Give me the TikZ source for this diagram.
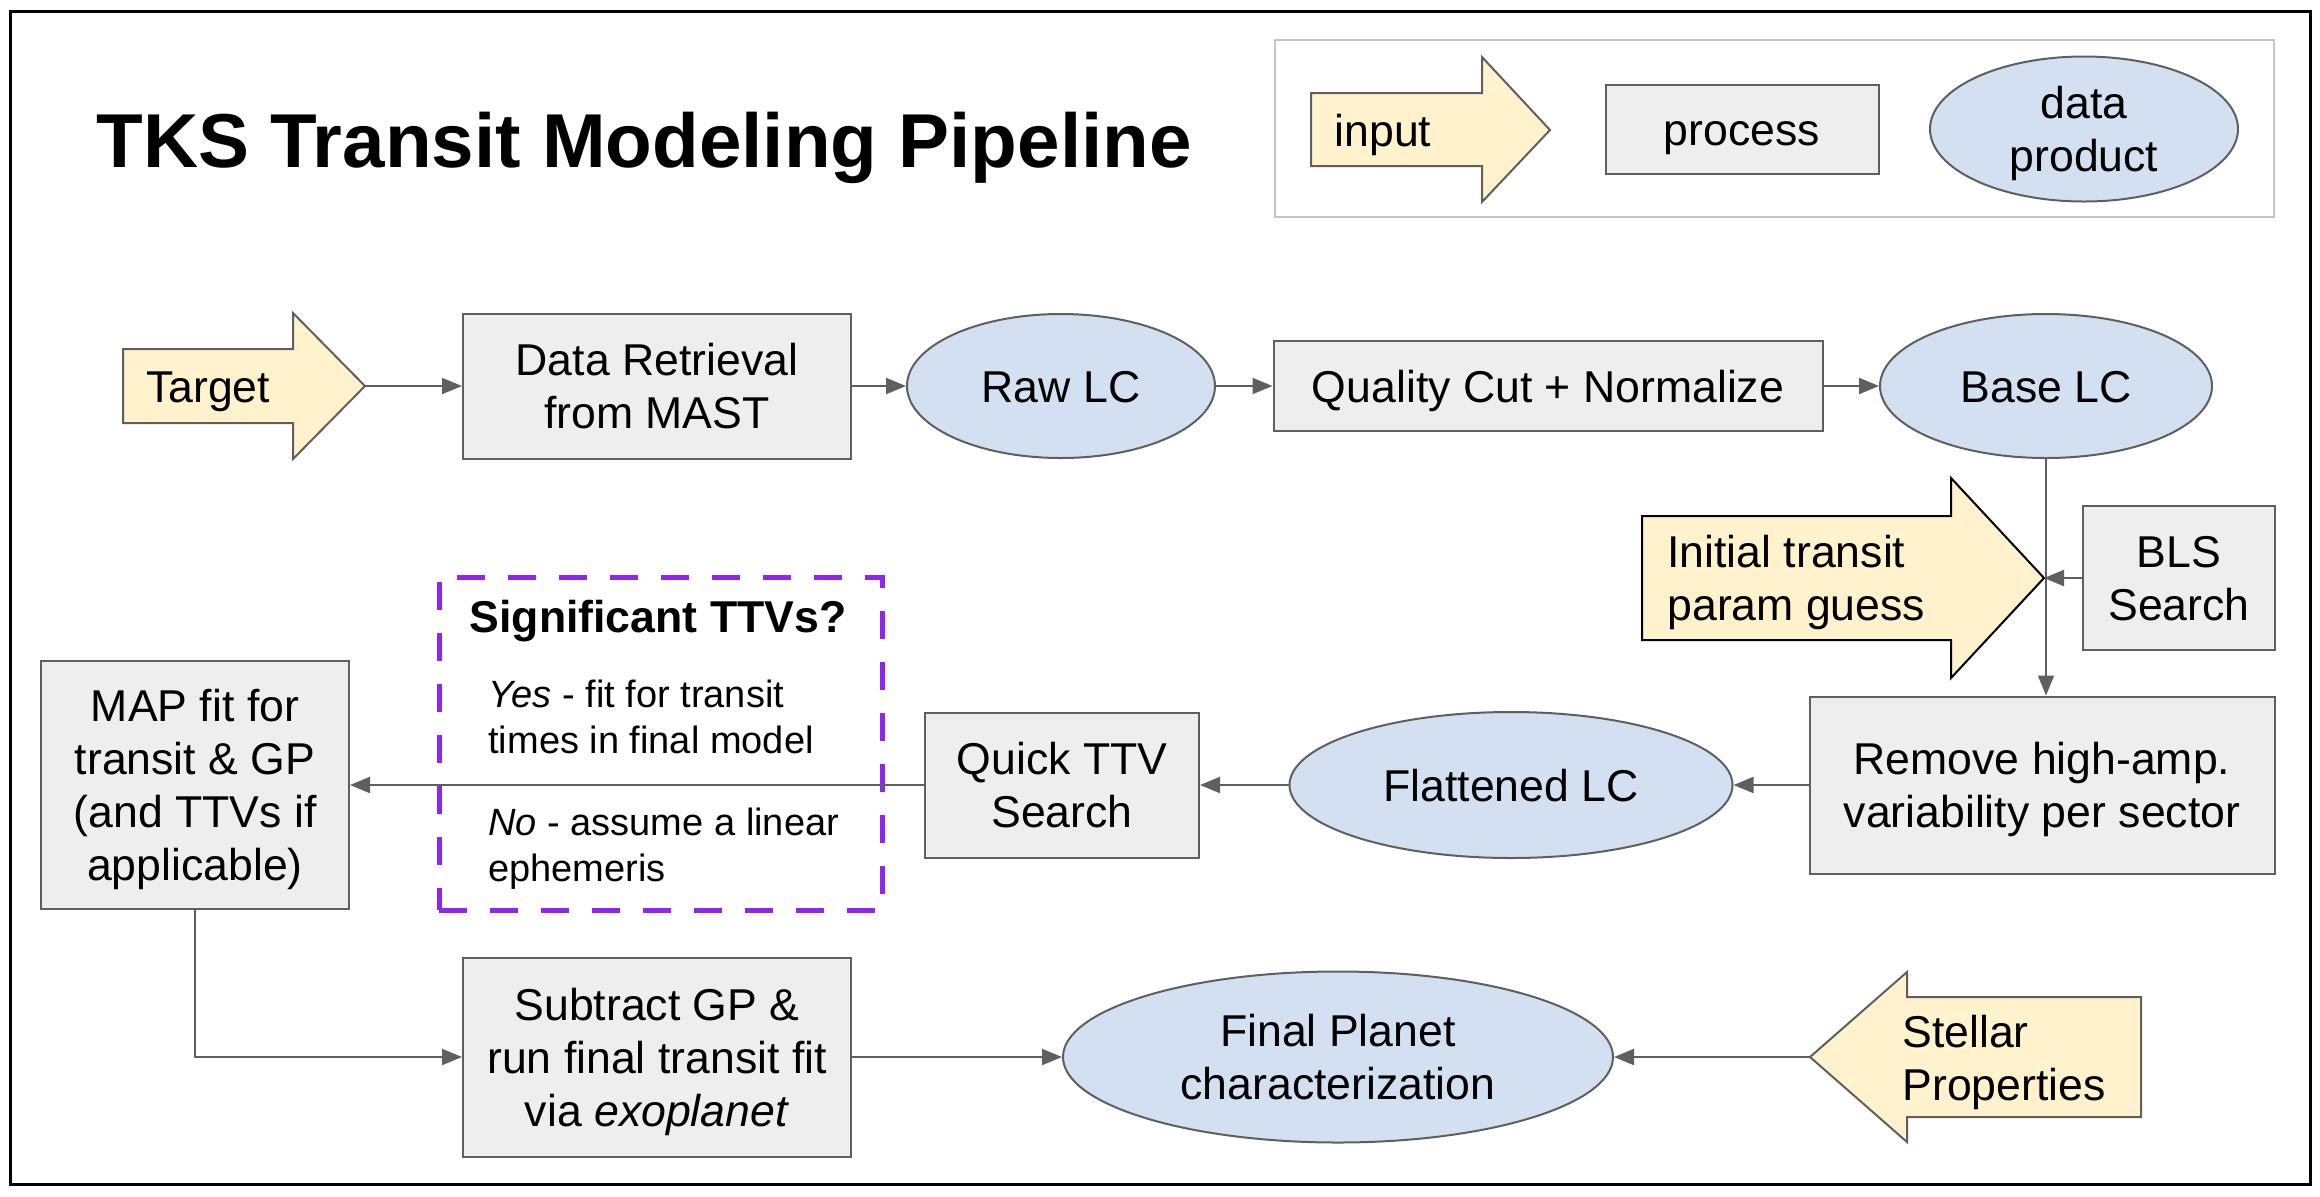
\documentclass[tikz,border=0pt]{standalone}
\usepackage{fontspec}
\setmainfont{Liberation Sans}
\usetikzlibrary{shapes.geometric,arrows.meta}
\definecolor{inyellow}{HTML}{FFF2CC}
\definecolor{procgray}{HTML}{EEEEEE}
\definecolor{dblue}{HTML}{D3E0F1}
\definecolor{bord}{HTML}{5F5F5F}
\definecolor{purp}{HTML}{9124F0}
\definecolor{legbord}{HTML}{C4C4C4}
\begin{document}
\begin{tikzpicture}[x=0.5pt,y=-0.5pt,
  txt/.style={font=\fontsize{22.3}{26.5}\selectfont, align=center},
  ctxt/.style={txt, text depth=0pt},
  oneline/.style={text height=16.3pt},
  smalltxt/.style={font=\fontsize{19}{23}\selectfont, inner sep=0pt, anchor=base west},
  proc/.style={ctxt, draw=bord, fill=procgray, line width=1pt, rectangle, inner sep=0pt},
  dprod/.style={ctxt, draw=bord, fill=dblue, line width=1pt, ellipse, inner sep=0pt},
  inarrow/.style={draw=bord, fill=inyellow, line width=1pt, line join=miter},
  conn/.style={draw=bord, line width=1pt, -{Triangle[length=10pt,width=8pt]}},
  thinconn/.style={draw=bord, line width=0.8pt, -{Triangle[length=10pt,width=8pt]}},
  ttvbox/.style={draw=purp, line width=2.5pt, dash pattern=on 14pt off 11.5pt},
]
\useasboundingbox (0,0) rectangle (2320,1196);
% outer frame
\draw[line width=1.5pt, black] (10,11) rectangle (2310,1184);

% title
\node[anchor=base west, inner sep=0pt, font=\fontsize{38.2}{44}\selectfont\bfseries] (title) at (96,167) {TKS Transit Modeling Pipeline};

% legend
\draw[draw=legbord, line width=1pt] (1275,40) rectangle (2274,217);
\draw[inarrow] (1311,93) -- (1482,93) -- (1482,57) -- (1550,130) -- (1482,202) -- (1482,166) -- (1311,166) -- cycle;
\node[ctxt, oneline] (leginput) at (1383,130) {input};
\node[proc, oneline, minimum width=136.5pt, minimum height=44.5pt] (legproc) at (1742,129) {process};
\node[dprod, minimum width=154pt, minimum height=72.5pt] (legdata) at (2084,129) {data\\product};

% row 1
\draw[inarrow] (123,349) -- (293,349) -- (293,313) -- (365,386) -- (293,459) -- (293,423) -- (123,423) -- cycle;
\node[ctxt, oneline] (target) at (208,386) {Target};
\coordinate (targettip) at (365,386);
\node[proc, minimum width=194pt, minimum height=72.5pt] (dataret) at (657,386) {Data Retrieval\\from MAST};
\node[dprod, oneline, minimum width=154pt, minimum height=72pt] (raw) at (1061,386) {Raw LC};
\node[proc, oneline, minimum width=274.5pt, minimum height=45pt] (quality) at (1548,386) {Quality Cut + Normalize};
\node[dprod, oneline, minimum width=166pt, minimum height=72pt] (base) at (2046,386) {Base LC};

% initial guess and BLS
\draw[inarrow, draw=black] (1642,516) -- (1951,516) -- (1951,478) -- (2044,578) -- (1951,678) -- (1951,640) -- (1642,640) -- cycle;
\node[txt, align=left, anchor=west, inner sep=0pt] (initguess) at (1667,582) {Initial transit\\param guess};
\coordinate (inittip) at (2044,578);
\node[proc, minimum width=96pt, minimum height=72pt] (bls) at (2179,578) {BLS\\Search};

% row 2
\node[proc, minimum width=232.5pt, minimum height=88.5pt] (remove) at (2042,785) {Remove high-amp.\\variability per sector};
\node[dprod, oneline, minimum width=221.5pt, minimum height=73pt] (flat) at (1511,785) {Flattened LC};
\node[proc, minimum width=137pt, minimum height=72.5pt] (ttv) at (1062,785) {Quick TTV\\Search};
\node[proc, minimum width=154pt, minimum height=124pt] (map) at (195,785) {MAP fit for\\transit \& GP\\(and TTVs if\\applicable)};

% significant TTVs box
\node[ttvbox, rectangle, minimum width=221.5pt, minimum height=166.5pt, inner sep=0pt] (ttvq) at (660.5,743.5) {};
\node[anchor=base, inner sep=0pt, font=\fontsize{22.3}{26.5}\selectfont\bfseries] (ttvtitle) at (658,632) {Significant TTVs?};
\node[smalltxt] (yes1) at (488,707) {\textit{Yes} - fit for transit};
\node[smalltxt] (yes2) at (488,753) {times in final model};
\node[smalltxt] (no1) at (488,835) {\textit{No} - assume a linear};
\node[smalltxt] (no2) at (488,881) {ephemeris};

% row 3
\node[proc, minimum width=194pt, minimum height=99.5pt] (subtract) at (657,1057) {Subtract GP \&\\run final transit fit\\via \textit{exoplanet}};
\node[dprod, minimum width=275pt, minimum height=85.5pt] (final) at (1338,1057) {Final Planet\\characterization};
\draw[inarrow] (2141,997) -- (1907,997) -- (1907,972) -- (1810,1057) -- (1907,1142) -- (1907,1117) -- (2141,1117) -- cycle;
\node[txt, align=left, anchor=west, inner sep=0pt] (stellar) at (1902,1062) {Stellar\\Properties};
\coordinate (stellartip) at (1810,1057);

% connectors
\draw[conn] (targettip) -- (dataret.west);
\draw[conn] (dataret) -- (raw);
\draw[conn] (raw) -- (quality);
\draw[conn] (quality) -- (base);
\draw[thinconn] (base.south) -- (base.south |- remove.north);
\draw[conn] (bls.west) -- (inittip);
\draw[conn] (remove) -- (flat);
\draw[conn] (flat) -- (ttv);
\draw[conn] (ttv) -- (map);
\draw[conn] (map.south) |- (subtract.west);
\draw[conn] (subtract) -- (final);
\draw[conn] (stellartip) -- (final.east);
\end{tikzpicture}
\end{document}
